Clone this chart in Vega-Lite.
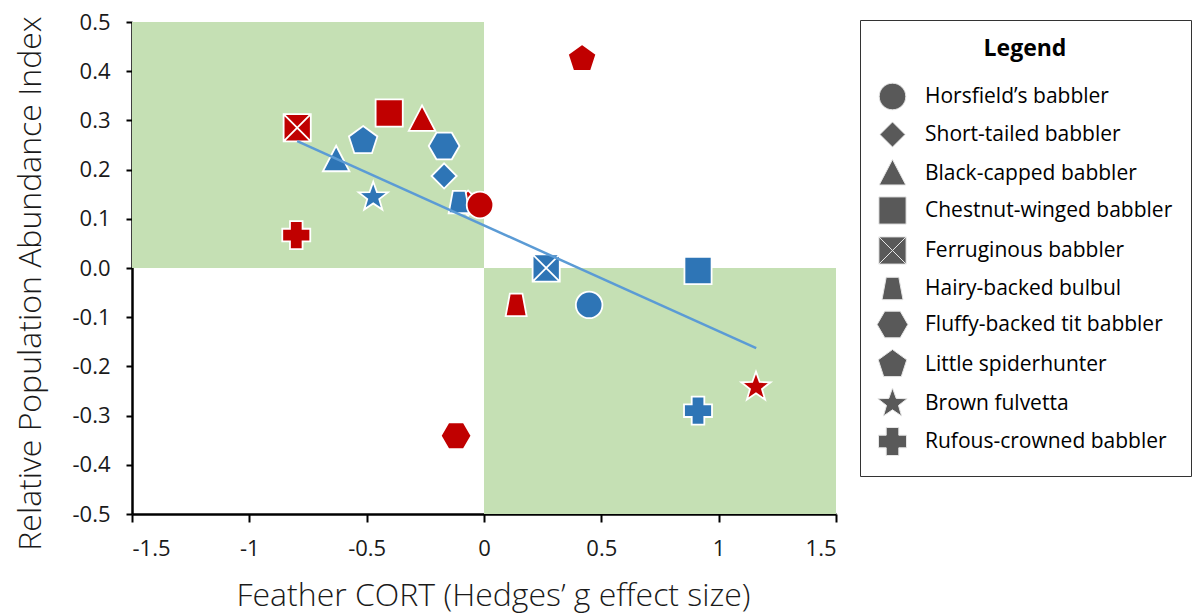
{
  "$schema": "https://vega.github.io/schema/vega-lite/v6.json",
  "autosize": {"type": "none"},
  "padding": {"left": 132, "top": 22, "right": 359, "bottom": 100},
  "width": 704,
  "height": 492,
  "background": "white",
  "config": {
    "view": {"stroke": null},
    "font": "Open Sans",
    "axis": {
      "grid": false,
      "domainColor": "#000000",
      "domainWidth": 2.5,
      "tickColor": "#000000",
      "tickWidth": 2,
      "labelFont": "Open Sans",
      "labelFontSize": 22,
      "labelColor": "#1a1a1a",
      "titleFont": "Open Sans",
      "titleFontSize": 32,
      "titleFontWeight": 300,
      "titleColor": "#1a1a1a"
    }
  },
  "datasets": {
    "quadrants": [
      {"x1": -1.5, "x2": 0, "y1": 0, "y2": 0.5},
      {"x1": 0, "x2": 1.5, "y1": -0.5, "y2": 0}
    ],
    "birds": [
      {"species": "Short-tailed babbler", "site": "Site B", "cort": -0.068, "abundance": 0.132},
      {"species": "Ferruginous babbler", "site": "Site B", "cort": -0.796, "abundance": 0.285},
      {"species": "Chestnut-winged babbler", "site": "Site B", "cort": -0.404, "abundance": 0.315},
      {"species": "Black-capped babbler", "site": "Site B", "cort": -0.264, "abundance": 0.302},
      {"species": "Little spiderhunter", "site": "Site A", "cort": -0.515, "abundance": 0.258},
      {"species": "Fluffy-backed tit babbler", "site": "Site A", "cort": -0.17, "abundance": 0.248},
      {"species": "Black-capped babbler", "site": "Site A", "cort": -0.63, "abundance": 0.22},
      {"species": "Short-tailed babbler", "site": "Site A", "cort": -0.17, "abundance": 0.187},
      {"species": "Brown fulvetta", "site": "Site A", "cort": -0.472, "abundance": 0.144},
      {"species": "Hairy-backed bulbul", "site": "Site A", "cort": -0.106, "abundance": 0.134},
      {"species": "Horsfield’s babbler", "site": "Site B", "cort": -0.017, "abundance": 0.128},
      {"species": "Rufous-crowned babbler", "site": "Site B", "cort": -0.8, "abundance": 0.067},
      {"species": "Little spiderhunter", "site": "Site B", "cort": 0.418, "abundance": 0.425},
      {"species": "Ferruginous babbler", "site": "Site A", "cort": 0.265, "abundance": 0.0},
      {"species": "Chestnut-winged babbler", "site": "Site A", "cort": 0.912, "abundance": -0.005},
      {"species": "Hairy-backed bulbul", "site": "Site B", "cort": 0.137, "abundance": -0.075},
      {"species": "Horsfield’s babbler", "site": "Site A", "cort": 0.448, "abundance": -0.075},
      {"species": "Brown fulvetta", "site": "Site B", "cort": 1.159, "abundance": -0.242},
      {"species": "Rufous-crowned babbler", "site": "Site A", "cort": 0.912, "abundance": -0.29},
      {"species": "Fluffy-backed tit babbler", "site": "Site B", "cort": -0.119, "abundance": -0.341}
    ],
    "trend": [
      {"cort": -0.796, "abundance": 0.258},
      {"cort": 1.16, "abundance": -0.163}
    ]
  },
  "layer": [
    {
      "data": {"name": "quadrants"},
      "mark": {"type": "rect", "color": "#C5E0B4"},
      "encoding": {
        "x": {"field": "x1", "type": "quantitative", "scale": {"domain": [-1.5, 1.5], "nice": false, "zero": false},
          "axis": {
            "values": [-1.5, -1, -0.5, 0, 0.5, 1, 1.5],
            "format": "~g",
            "labelExpr": "replace(datum.label, '\u2212', '-')",
            "tickSize": 8,
            "labelPadding": 16,
            "title": "Feather CORT (Hedges’ g effect size)",
            "titleX": 361,
            "titleY": 91,
            "titleBaseline": "alphabetic"
          }},
        "x2": {"field": "x2"},
        "y": {"field": "y1", "type": "quantitative", "scale": {"domain": [-0.5, 0.5], "nice": false, "zero": false},
          "axis": {
            "values": [-0.5, -0.4, -0.3, -0.2, -0.1, 0, 0.1, 0.2, 0.3, 0.4, 0.5],
            "format": ".1f",
            "labelExpr": "replace(datum.label, '\u2212', '-')",
            "tickSize": 6,
            "labelPadding": 16,
            "title": "Relative Population Abundance Index",
            "titleX": -85,
            "titleY": 261,
            "titleBaseline": "bottom"
          }},
        "y2": {"field": "y2"}
      }
    },
    {
      "data": {"name": "birds"},
      "mark": {"type": "point", "filled": true, "opacity": 1, "size": 784, "stroke": "white", "strokeWidth": 1.8},
      "encoding": {
        "x": {"field": "cort", "type": "quantitative"},
        "y": {"field": "abundance", "type": "quantitative"},
        "color": {
          "field": "site", "type": "nominal",
          "scale": {"domain": ["Site A", "Site B"], "range": ["#2E75B6", "#C00000"]},
          "legend": null
        },
        "shape": {
          "field": "species", "type": "nominal",
          "scale": {
            "domain": [
              "Horsfield’s babbler",
              "Short-tailed babbler",
              "Black-capped babbler",
              "Chestnut-winged babbler",
              "Ferruginous babbler",
              "Hairy-backed bulbul",
              "Fluffy-backed tit babbler",
              "Little spiderhunter",
              "Brown fulvetta",
              "Rufous-crowned babbler"
            ],
            "range": [
              "M0.95,0A0.95,0.95,0,1,1,-0.95,0A0.95,0.95,0,1,1,0.95,0Z",
              "M0,-0.9L0.9,0L0,0.9L-0.9,0Z",
              "M0,-1L0.95,0.82L-0.95,0.82Z",
              "M-0.97,-0.97H0.97V0.97H-0.97Z",
              "M-0.97,-0.97H0.97V0.97H-0.97Z M-0.97,-0.97L0.97,0.97 M0.97,-0.97L-0.97,0.97",
              "M-0.45,-0.8L0.45,-0.8L0.75,0.8L-0.75,0.8Z",
              "M-1.1,0L-0.55,-0.95L0.55,-0.95L1.1,0L0.55,0.95L-0.55,0.95Z",
              "M0,-1.07L1.018,-0.331L0.629,0.866L-0.629,0.866L-1.018,-0.331Z",
              "M0,-1.1L0.265,-0.364L1.046,-0.34L0.428,0.139L0.647,0.89L0,0.45L-0.647,0.89L-0.428,0.139L-1.046,-0.34L-0.265,-0.364Z",
              "M-0.45,-1H0.45V-0.45H1V0.45H0.45V1H-0.45V0.45H-1V-0.45H-0.45Z"
            ]
          },
          "legend": {
            "title": "Legend",
            "orient": "none",
            "legendX": 728,
            "legendY": -2,
            "strokeColor": "#333333",
            "fillColor": "white",
            "padding": 18,
            "titleAnchor": "middle",
            "titleFont": "Open Sans",
            "titleFontSize": 23,
            "titleFontWeight": "bold",
            "titleColor": "#000000",
            "titlePadding": 21,
            "labelFont": "Open Sans",
            "labelFontSize": 21,
            "labelColor": "#000000",
            "labelOffset": 18,
            "labelLimit": 400,
            "symbolSize": 784,
            "symbolFillColor": "#595959",
            "symbolStrokeColor": "#e6e6e6",
            "symbolStrokeWidth": 1,
            "symbolOpacity": 1,
            "rowPadding": 7
          }
        }
      }
    },
    {
      "data": {"name": "trend"},
      "mark": {"type": "line", "color": "#5B9BD5", "strokeWidth": 2.5},
      "encoding": {
        "x": {"field": "cort", "type": "quantitative"},
        "y": {"field": "abundance", "type": "quantitative"}
      }
    }
  ]
}
